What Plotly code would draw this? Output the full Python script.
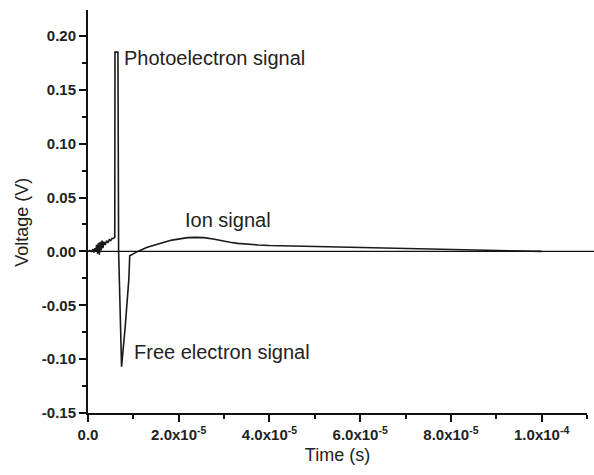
import plotly.graph_objects as go

# Oscilloscope trace: time in microseconds, voltage in volts
time_us = [
    0.0, 0.4, 0.8, 1.1, 1.3, 1.5, 1.7, 1.9, 2.1, 2.3, 2.5, 2.7, 2.9, 3.1, 3.3,
    3.5, 3.8, 4.1, 4.4, 4.7, 5.0, 5.3, 5.6, 5.9,
    5.95, 6.6, 6.75, 7.4, 8.2, 9.0, 9.0, 9.2, 10.0, 11.0,
    12.9, 14.5, 16.6, 18.5, 20.3, 22.0, 23.6, 25.5, 27.6, 29.5, 31.3, 33.0,
    35.0, 37.5, 40.0, 45.0, 50.0, 55.0, 62.0, 70.0, 77.0, 85.0, 91.5, 95.0, 100.0,
]
voltage = [
    0.000, 0.001, 0.000, 0.002, -0.001, 0.003, 0.000, 0.006, -0.002, 0.008, -0.003,
    0.009, 0.001, 0.010, 0.003, 0.009, 0.006, 0.010, 0.008, 0.011, 0.010, 0.012,
    0.012, 0.013,
    0.185, 0.185, 0.000, -0.107, -0.070, -0.032, -0.026, -0.004, -0.002, 0.000,
    0.0037, 0.006, 0.0083, 0.0105, 0.012, 0.0128, 0.013, 0.0128, 0.0115, 0.0098,
    0.0085, 0.0075, 0.0066, 0.006, 0.0055, 0.005, 0.0045, 0.0042, 0.0037, 0.003,
    0.0022, 0.0012, 0.0004, 0.0, 0.0,
]
time_s = [t * 1e-6 for t in time_us]

x_tickvals = [0.0, 2e-5, 4e-5, 6e-5, 8e-5, 1e-4]
x_ticktext = ["0.0", "2.0x10<sup>-5</sup>", "4.0x10<sup>-5</sup>",
              "6.0x10<sup>-5</sup>", "8.0x10<sup>-5</sup>", "1.0x10<sup>-4</sup>"]

y_tickvals = [-0.15, -0.10, -0.05, 0.00, 0.05, 0.10, 0.15, 0.20]
y_ticktext = ["-0.15", "-0.10", "-0.05", "0.00", "0.05", "0.10", "0.15", "0.20"]

labels = ["Photoelectron signal", "Ion signal", "Free electron signal"]
label_x = [7.4e-6, 2.09e-5, 9.6e-6]
label_y = [0.1795, 0.0292, -0.0935]

FONT = "Liberation Sans, Arial, sans-serif"

fig = go.Figure()
fig.add_trace(go.Scatter(
    x=time_s, y=voltage, mode="lines",
    line=dict(color="#1a1a1a", width=1.6),
    showlegend=False, hoverinfo="skip",
))

# zero baseline
fig.add_shape(type="line", xref="paper", yref="y", x0=0, x1=1.015, y0=0, y1=0,
              line=dict(color="#111111", width=1.2))

for txt, lx, ly in zip(labels, label_x, label_y):
    fig.add_annotation(x=lx, y=ly, xref="x", yref="y", text=txt, showarrow=False,
                       xanchor="left", yanchor="middle",
                       font=dict(family=FONT, size=20, color="#222222"))

axis_common = dict(
    showline=True, linecolor="#111111", linewidth=2, mirror=False,
    ticks="outside", ticklen=7, tickwidth=2, tickcolor="#111111",
    showgrid=False, zeroline=False,
    tickfont=dict(family=FONT, size=15, color="#222222", weight="bold"),
    tickmode="array",
)

fig.update_xaxes(
    **axis_common, range=[0, 1.1e-4], tickvals=x_tickvals, ticktext=x_ticktext,
    minor=dict(tick0=0, dtick=1e-5, ticks="outside", ticklen=4, tickwidth=2,
               tickcolor="#111111", showgrid=False),
    title=dict(text="Time (s)", font=dict(family=FONT, size=18, color="#222222"),
               standoff=6),
)
fig.update_yaxes(
    **axis_common, range=[-0.15, 0.2241], tickvals=y_tickvals, ticktext=y_ticktext,
    minor=dict(tick0=0, dtick=0.025, ticks="outside", ticklen=4, tickwidth=2,
               tickcolor="#111111", showgrid=False),
    title=None,
)

# y axis title, positioned relative to the plot area
fig.add_annotation(x=(22 - 88) / (586.7 - 88), y=(413.3 - 222) / (413.3 - 10),
                   xref="paper", yref="paper", text="Voltage (V)",
                   showarrow=False, textangle=-90,
                   xanchor="center", yanchor="middle",
                   font=dict(family=FONT, size=18, color="#222222"))

fig.update_layout(
    width=594, height=475,
    margin=dict(l=88, r=7.3, t=10, b=61.7),
    paper_bgcolor="white", plot_bgcolor="white",
    font=dict(family=FONT),
)

fig.write_html("out.html")
